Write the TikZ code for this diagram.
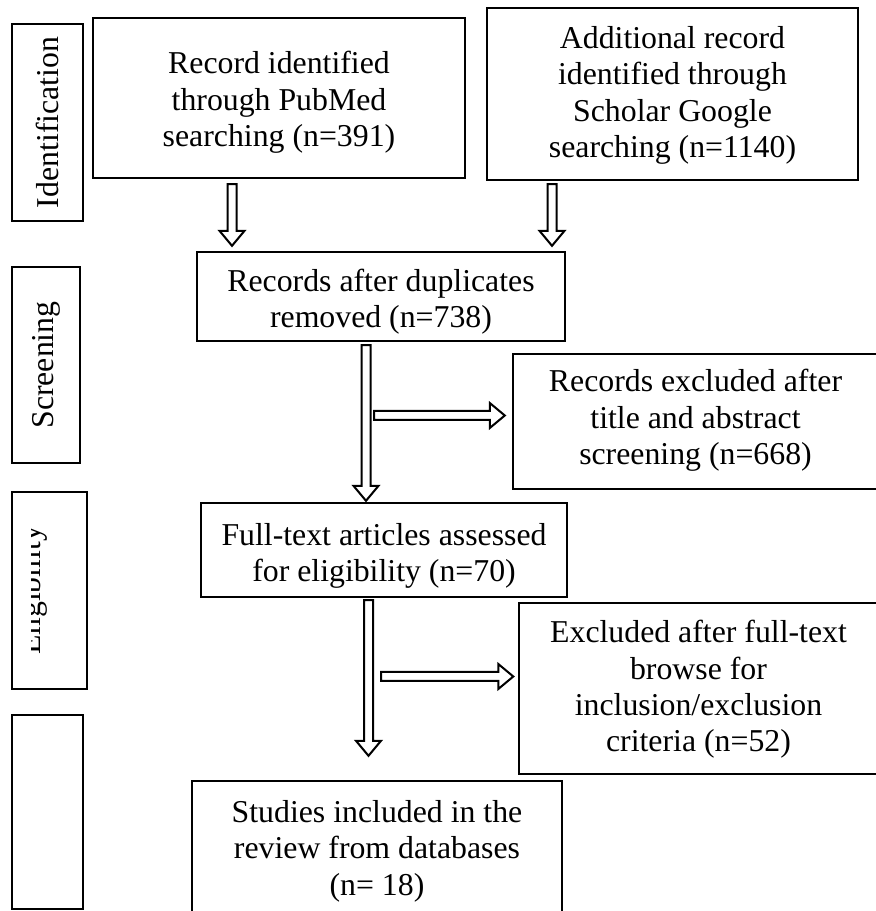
\documentclass[tikz,border=0pt]{standalone}
\usepackage{fontspec}
\setmainfont{Liberation Serif}
\usetikzlibrary{calc}

\tikzset{
    box/.style={draw, line width=1.2pt, align=center, inner sep=0pt,
        font=\fontsize{15.9pt}{18.25pt}\selectfont, text depth=0pt},
    sidebox/.style={draw, line width=1.2pt, rotate=90, inner sep=0pt,
        font=\fontsize{15.9pt}{18.25pt}\selectfont},
    hollow/.style={draw, line width=1pt, fill=white, line join=miter}
}

% hollow block arrows: [gap before target]{start}{target}
\newcommand{\hollowdown}[3][1pt]{%
    \draw[hollow] let \p1=(#2), \p2=(#3) in
        (\x1-2.25pt,\y1) -- (\x1-2.25pt,\y2+#1+7.5pt) -- (\x1-6.25pt,\y2+#1+7.5pt)
        -- (\x1,\y2+#1) -- (\x1+6.25pt,\y2+#1+7.5pt) -- (\x1+2.25pt,\y2+#1+7.5pt)
        -- (\x1+2.25pt,\y1) -- cycle;}
\newcommand{\hollowright}[3][1pt]{%
    \draw[hollow] let \p1=(#2), \p2=(#3) in
        (\x1,\y1-2.25pt) -- (\x2-#1-7.5pt,\y1-2.25pt) -- (\x2-#1-7.5pt,\y1-6.25pt)
        -- (\x2-#1,\y1) -- (\x2-#1-7.5pt,\y1+6.25pt) -- (\x2-#1-7.5pt,\y1+2.25pt)
        -- (\x1,\y1+2.25pt) -- cycle;}

\begin{document}
\begin{tikzpicture}[x=0.5pt, y=0.5pt]
    \useasboundingbox (0,0) rectangle (876,911);
    \clip (0,0) rectangle (876,911);

    % Stage labels (left column)
    \node[sidebox, minimum width=98.5pt, minimum height=35.5pt] (idbox) at (47.5,788.5) {Identification};
    \node[sidebox, minimum width=98pt, minimum height=34pt] (scbox) at (46,546) {Screening};
    \node[sidebox, minimum width=98.5pt, minimum height=37.5pt] (elbox) at (49.5,320.5) {};
    \node[sidebox, minimum width=97pt, minimum height=35.5pt] (inbox) at (47.5,99) {};
    % Eligibility label, only partly shown
    \begin{scope}
        \clip (31.5,480) rectangle (87,160);
        \node[rotate=90, anchor=base, inner sep=0pt, font=\fontsize{15.9pt}{18.25pt}\selectfont] (eltext) at (41,320.5) {Eligibility};
    \end{scope}

    % Identification
    \node[box, text height=49pt, minimum width=186pt, minimum height=80pt] (pubmed) at (279,813)
        {Record identified\\through PubMed\\searching (n=391)};
    \node[box, text height=64pt, minimum width=185.5pt, minimum height=86pt] (scholar) at (672.5,817)
        {Additional record\\identified through\\Scholar Google\\searching (n=1140)};

    % Screening
    \node[box, text height=31.5pt, minimum width=184pt, minimum height=44.5pt] (dedup) at (381,614.5)
        {Records after duplicates\\removed (n=738)};
    \node[box, text height=43.5pt, minimum width=182.5pt, minimum height=67.5pt] (excl1) at (695.5,489.5)
        {Records excluded after\\title and abstract\\screening (n=668)};

    % Eligibility
    \node[box, text height=32pt, minimum width=183pt, minimum height=47pt] (fulltext) at (384,361)
        {Full-text articles assessed\\for eligibility (n=70)};
    \node[box, text height=63.5pt, minimum width=179.5pt, minimum height=85.5pt] (excl2) at (698.5,222.5)
        {Excluded after full-text\\browse for\\inclusion/exclusion\\criteria (n=52)};

    % Included
    \node[box, text height=43.5pt, minimum width=185pt, minimum height=70.5pt] (incl) at (377,59.5)
        {Studies included in the\\review from databases\\(n= 18)};

    % Arrow start points
    \coordinate (a1) at ($(pubmed.south)+(-47,-5)$);
    \coordinate (a2) at ($(scholar.south)+(-120.5,-3)$);
    \coordinate (a3) at ($(dedup.south)+(-15,-3)$);
    \coordinate (a4) at ($(fulltext.south)+(-15.5,-2)$);
    \coordinate (h1) at (374,495.5);
    \coordinate (h2) at (381,234.5);

    % Arrows
    \hollowdown[2.5pt]{a1}{dedup.north}
    \hollowdown[2.5pt]{a2}{dedup.north}
    \hollowdown[0.5pt]{a3}{fulltext.north}
    \hollowright[3.5pt]{h1}{excl1.west}
    \hollowdown[12pt]{a4}{incl.north}
    \hollowright[2.25pt]{h2}{excl2.west}
\end{tikzpicture}
\end{document}
